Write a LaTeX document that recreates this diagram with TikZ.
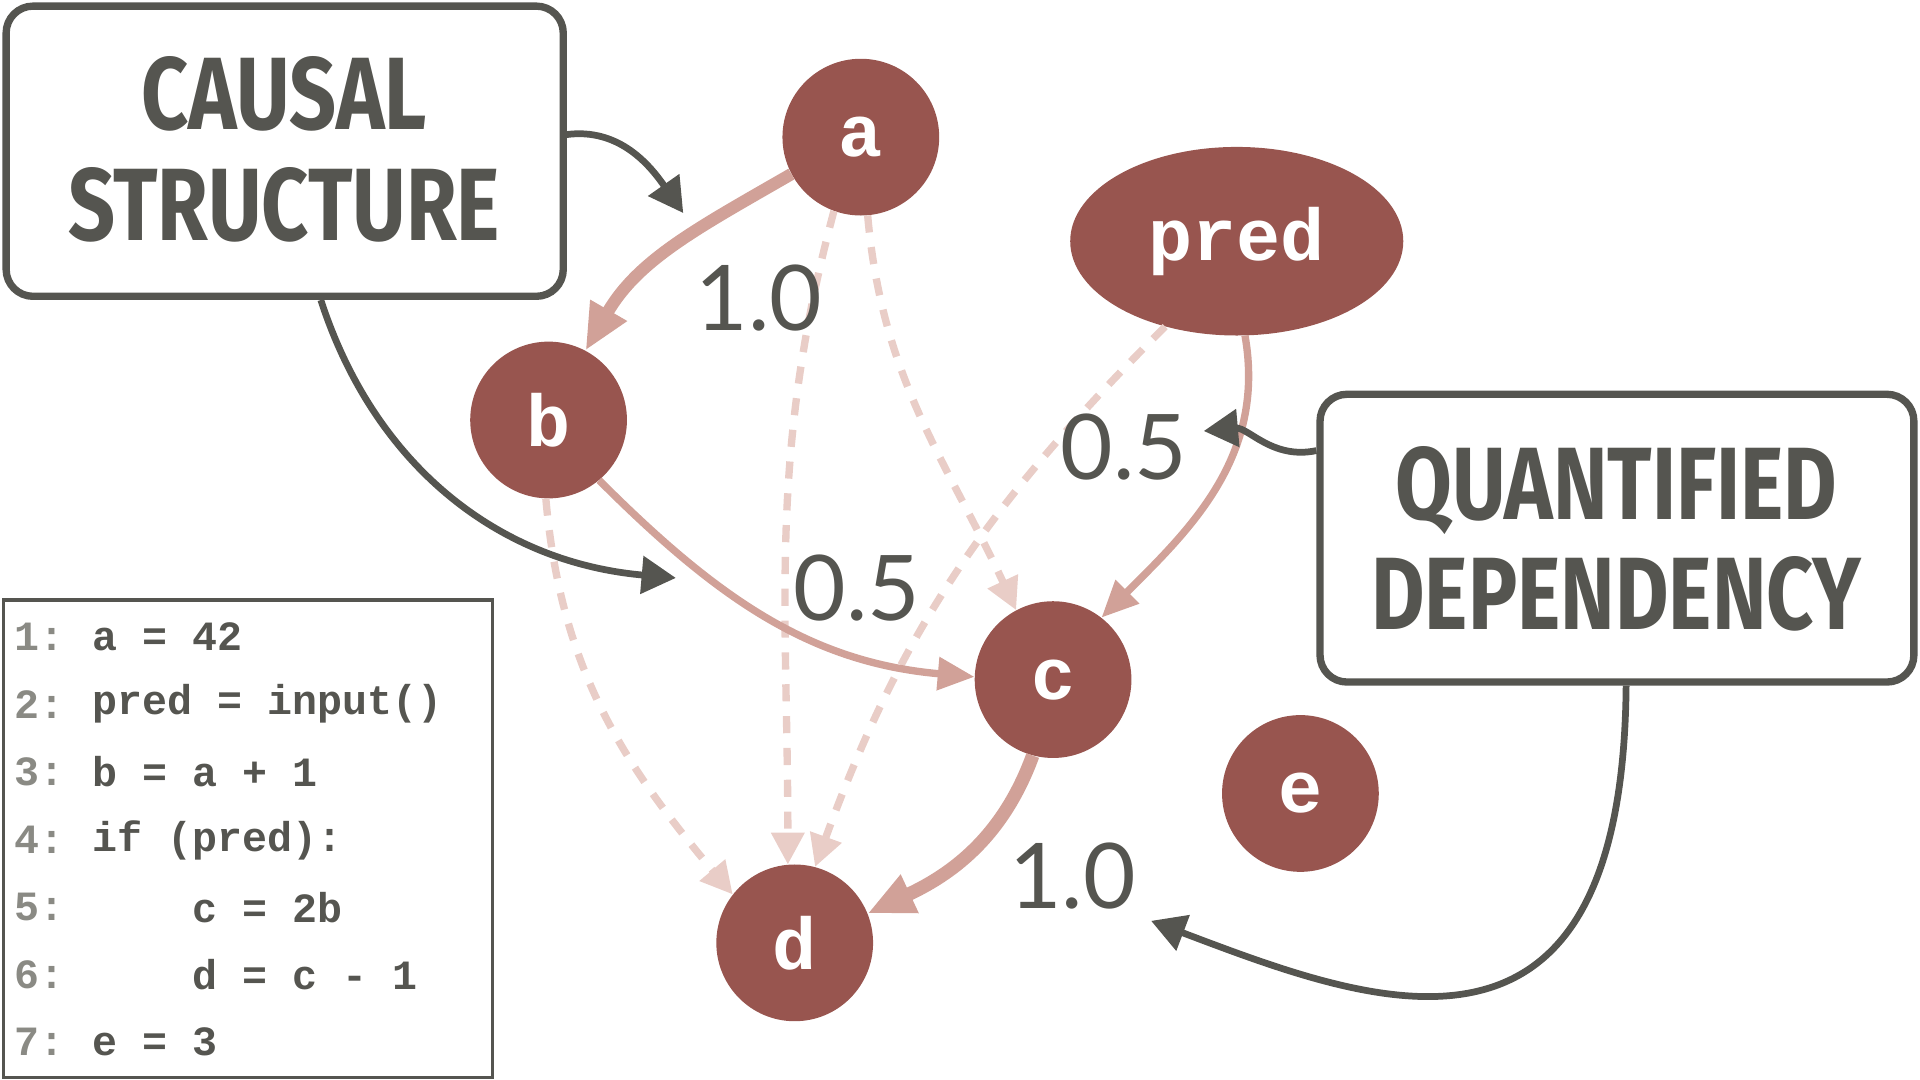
\documentclass[tikz,border=0pt]{standalone}
\usepackage{fontspec}
\setmainfont{Liberation Sans}
\newfontfamily\codefont{Liberation Mono}
\newfontfamily\numfont{Lato}
\newfontfamily\titlefont{Fira Sans}
\usetikzlibrary{arrows.meta,shapes.geometric}
\definecolor{nodec}{HTML}{98554F}
\definecolor{edgec}{HTML}{D1A198}
\definecolor{dashc}{HTML}{E9CDC7}
\definecolor{darkc}{HTML}{555550}
\definecolor{numc}{HTML}{8A8A84}
\tikzset{
 var/.style={circle,fill=nodec,minimum size=128pt,inner sep=0pt,text=white,font=\codefont\bfseries\fontsize{60}{60}\selectfont},
 solidedge/.style={draw=edgec,-{Triangle[length=38pt,width=32pt]}},
 dashedge/.style={draw=dashc,line width=6pt,dash pattern=on 14pt off 12pt,-{Triangle[length=26pt,width=26pt]}},
 darkarrow/.style={draw=darkc,line width=5.5pt,-{Triangle[length=28pt,width=30pt]}},
 lbox/.style={draw=darkc,line width=6pt,rounded corners=22pt,fill=white},
 lbl/.style={text=darkc,font=\numfont\fontsize{74}{74}\selectfont},
 title/.style={text=darkc,font=\titlefont\bfseries\fontsize{84}{96}\selectfont,align=center},
 code/.style={anchor=west,text=darkc,font=\codefont\bfseries\fontsize{34}{34}\selectfont},
 codenum/.style={anchor=west,text=numc,font=\codefont\bfseries\fontsize{34}{34}\selectfont}
}
\begin{document}
\begin{tikzpicture}[x=1pt,y=-1pt]
\useasboundingbox (0,0) rectangle (1568,882);
% boxes
\draw[lbox] (5,5) rectangle (460,242);
\node[title] (cs) at (232,122) {\scalebox{0.8}[1]{CAUSAL}\\[-6pt]\scalebox{0.8}[1]{STRUCTURE}};
\draw[lbox] (1078,322) rectangle (1563,557);
\node[title] (qd) at (1320,440) {\scalebox{0.8}[1]{QUANTIFIED}\\[-6pt]\scalebox{0.8}[1]{DEPENDENCY}};
\coordinate (csR) at (462,110);
\coordinate (csB) at (262,245);
\coordinate (qdL) at (1075,368);
\coordinate (qdB) at (1328,560);
% nodes
\node[var] (a) at (703,112) {a};
\node[var] (b) at (448,343) {b};
\node[var] (c) at (860,555) {c};
\node[var] (d) at (649,770) {d};
\node[var] (e) at (1062,648) {e};
\node[ellipse,fill=nodec,minimum width=272pt,minimum height=154pt,inner sep=0pt,text=white,font=\codefont\bfseries\fontsize{60}{60}\selectfont] (pred) at (1010,197) {pred};
% dashed
\draw[dashedge] (a.250) to[out=255,in=90] (d.95);
\draw[dashedge] (a.275) to[out=275,in=115] (c.118);
\draw[dashedge] (pred.230) to[out=225,in=70] (d.75);
\draw[dashedge] (b.268) to[out=275,in=130] (d.142);
% solid
\draw[solidedge,line width=10pt] (a.208) to[out=210,in=60] (b.62);
\draw[solidedge,line width=6pt,-{Triangle[length=30pt,width=26pt]}] (b.310) to[out=-45,in=175] (c.178);
\draw[solidedge,line width=6pt,-{Triangle[length=30pt,width=26pt]}] (pred.275) to[out=-80,in=45] (c.52);
\draw[solidedge,line width=11pt] (c.255) to[out=-110,in=25] (d.22);
% labels
\node[lbl] (l1) at (620,243) {1.0};
\node[lbl] (l2) at (700,480) {0.5};
\node[lbl] (l3) at (918,365) {0.5};
\node[lbl] (l4) at (876,715) {1.0};
% dark arrows
\coordinate (t1) at (558,174);
\coordinate (t2) at (552,472);
\coordinate (t3) at (983,352);
\coordinate (t4) at (940,752);
\draw[darkarrow] (csR) to[out=8,in=125] (t1);
\draw[darkarrow] (csB) to[out=-72,in=175] (t2);
\draw[darkarrow] (qdL) to[out=192,in=5] (t3);
\draw[darkarrow] (qdB) .. controls (1325,900) and (1120,820) .. (t4);
% code box
\draw[draw=darkc,line width=2.5pt,fill=white] (3,490) rectangle (402,880);
\foreach \n/\y/\t in {1/520/{a = 42},2/575/{pred = input()},3/630/{b = a + 1},4/686/{if (pred):},5/741/{\ \ \ \ c = 2b},6/796/{\ \ \ \ d = c - 1},7/851/{e = 3}}{
 \node[codenum] (n\n) at (8,\y) {\n:};
 \node[code] (c\n) at (72,\y) {\t};
}
\end{tikzpicture}
\end{document}
